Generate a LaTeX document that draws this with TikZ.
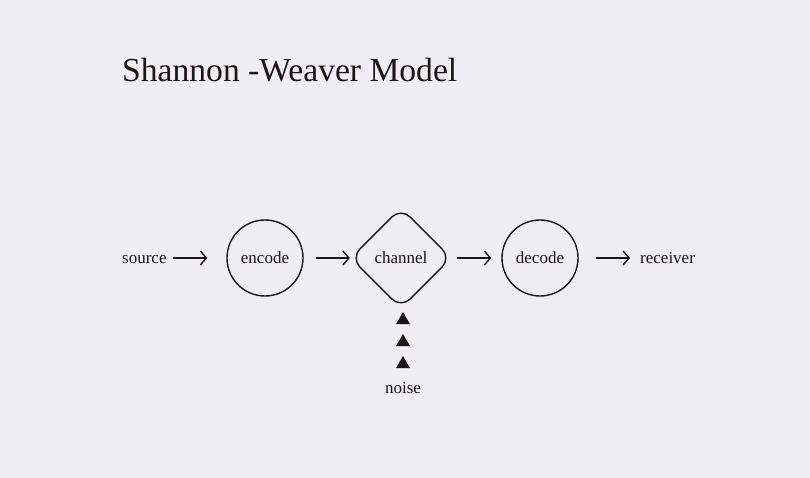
\documentclass[tikz,border=0pt]{standalone}
\usepackage{fontspec}
\setmainfont{Liberation Serif}
\usetikzlibrary{arrows.meta,shapes.geometric}
\definecolor{bg}{RGB}{239,238,240}
\definecolor{ink}{RGB}{25,22,22}
\begin{document}
\begin{tikzpicture}[x=1pt,y=-1pt,
  lbl/.style={font=\fontsize{17}{19}\selectfont, text=ink, inner sep=0pt},
  stage/.style={circle, draw=ink, line width=1.4pt, minimum size=76pt, inner sep=0pt,
    font=\fontsize{17}{19}\selectfont, text=ink},
  flow/.style={draw=ink, line width=1.4pt, -{Straight Barb[length=6pt,width=14pt,line width=1.4pt]}},
  tri/.style={regular polygon, regular polygon sides=3, fill=ink, inner sep=0pt, minimum size=16pt}]
\fill[bg] (0,0) rectangle (810,478);
\useasboundingbox (0,0) rectangle (810,478);
\node[anchor=base west, font=\fontsize{33.6}{36}\selectfont, text=ink, inner sep=0pt] (title) at (122,82) {Shannon -Weaver Model};
\node[lbl, anchor=base west] (source) at (122,263) {source};
\node[stage] (encode) at (265,258) {encode};
\coordinate (ch) at (401,258);
\node[draw=none, minimum width=100pt, minimum height=100pt, inner sep=0pt,
  font=\fontsize{17}{19}\selectfont, text=ink] (channel) at (ch) {channel};
\draw[ink, line width=1.4pt, rounded corners=13pt]
  (channel.north) -- (channel.east) -- (channel.south) -- (channel.west) -- cycle;
\node[stage] (decode) at (540,258) {decode};
\node[lbl, anchor=base west] (receiver) at (640,263) {receiver};
\node[tri] (t1) at (403,320) {};
\node[tri] (t2) at (403,342) {};
\node[tri] (t3) at (403,364) {};
\node[lbl, anchor=base] (noise) at (403,393) {noise};
\draw[flow, shorten <=6pt, shorten >=19pt] (source.east |- 0,258) -- (encode.west);
\draw[flow, shorten <=12pt, shorten >=1pt] (encode.east) -- (channel.west);
\draw[flow, shorten <=6pt, shorten >=10pt] (channel.east) -- (decode.west);
\draw[flow, shorten <=17pt, shorten >=10pt] (decode.east) -- (receiver.west |- 0,258);
\end{tikzpicture}
\end{document}
